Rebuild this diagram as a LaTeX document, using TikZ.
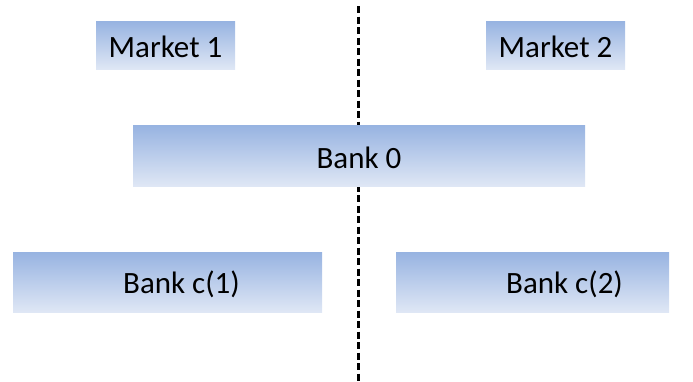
\documentclass[tikz,border=0pt]{standalone}
\usepackage{fontspec}
\setmainfont{Carlito}
\begin{document}
\begin{tikzpicture}[x=1pt,y=-1pt,
  box/.style={rectangle, draw=none, inner sep=0pt, top color=boxtop, bottom color=boxbot},
  boxtext/.style={font=\fontsize{31}{37}\selectfont, text=black, yshift=-2pt},
  divider/.style={line width=3pt, dash pattern=on 7pt off 3.5pt}]
\definecolor{boxtop}{RGB}{151,179,225}
\definecolor{boxbot}{RGB}{223,231,245}
\useasboundingbox (0,0) rectangle (693,381);
\coordinate (dtop) at (358,6);
\coordinate (dbot) at (358,381);
\draw[divider] (dtop) -- (dbot);
\node[box, minimum width=139pt, minimum height=48pt, label={[boxtext]center:Market 1}] (m1) at (165.5,45) {};
\node[box, minimum width=139pt, minimum height=48pt, label={[boxtext]center:Market 2}] (m2) at (555.5,45) {};
\node[box, minimum width=452pt, minimum height=61pt, label={[boxtext]center:Bank 0}] (b0) at (359,155.5) {};
\node[box, minimum width=309pt, minimum height=60pt, label={[boxtext, xshift=14pt]center:Bank c(1)}] (c1) at (167.5,282) {};
\node[box, minimum width=273pt, minimum height=60pt, label={[boxtext, xshift=32pt]center:Bank c(2)}] (c2) at (532.5,282) {};
\end{tikzpicture}
\end{document}
